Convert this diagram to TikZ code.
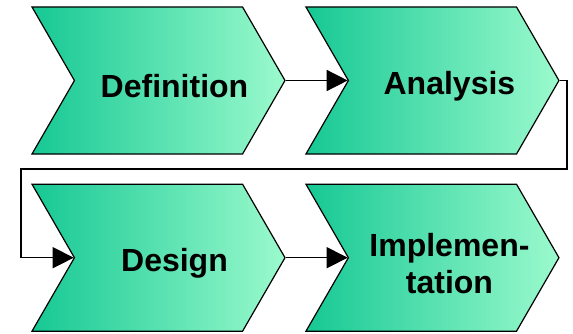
\documentclass[tikz,border=0pt]{standalone}
\usepackage{fontspec}
\setmainfont{Liberation Sans}
\usetikzlibrary{shapes.symbols, arrows.meta, positioning}
\definecolor{phasedark}{RGB}{22,200,148}
\definecolor{phaselight}{RGB}{155,250,205}
\tikzstyle{phase} = [signal, signal from=west, signal to=east, signal pointer angle=120, minimum width=253pt, minimum height=147pt, inner sep=0pt, draw=black, line width=1.2pt, left color=phasedark, right color=phaselight]
\tikzstyle{phasetext} = [font=\fontsize{32}{37}\selectfont\bfseries, align=center]
\tikzstyle{arrow} = [line width=1.4pt, -{Triangle[length=21pt, width=21pt]}]
\begin{document}
\begin{tikzpicture}[x=1pt, y=1pt]
    \useasboundingbox (0,0) rectangle (573,333);

    \node (def) [phase] at (158.5,252.5) {};
    \node (ana) [phase, right=62pt of def] {};
    \node (des) [phase, below=29pt of def] {};
    \node (imp) [phase, below=29pt of ana] {};

    \node (def-text) [phasetext] at ([xshift=16pt, yshift=-6pt]def.center) {Definition};
    \node (ana-text) [phasetext] at ([xshift=17pt, yshift=-6pt]ana.center) {Analysis};
    \node (des-text) [phasetext] at ([xshift=16pt, yshift=-6pt]des.center) {Design};
    \node (imp-text) [phasetext] at ([xshift=17pt, yshift=-6pt]imp.center) {Implemen-\\tation};

    \coordinate (loop-r) at (567,164);
    \coordinate (loop-l) at (21,164);

    \draw [arrow] (def.east) -- (ana.west);
    \draw [arrow] (ana.east) -| (loop-r) -- (loop-l) |- (des.west);
    \draw [arrow] (des.east) -- (imp.west);
\end{tikzpicture}
\end{document}
